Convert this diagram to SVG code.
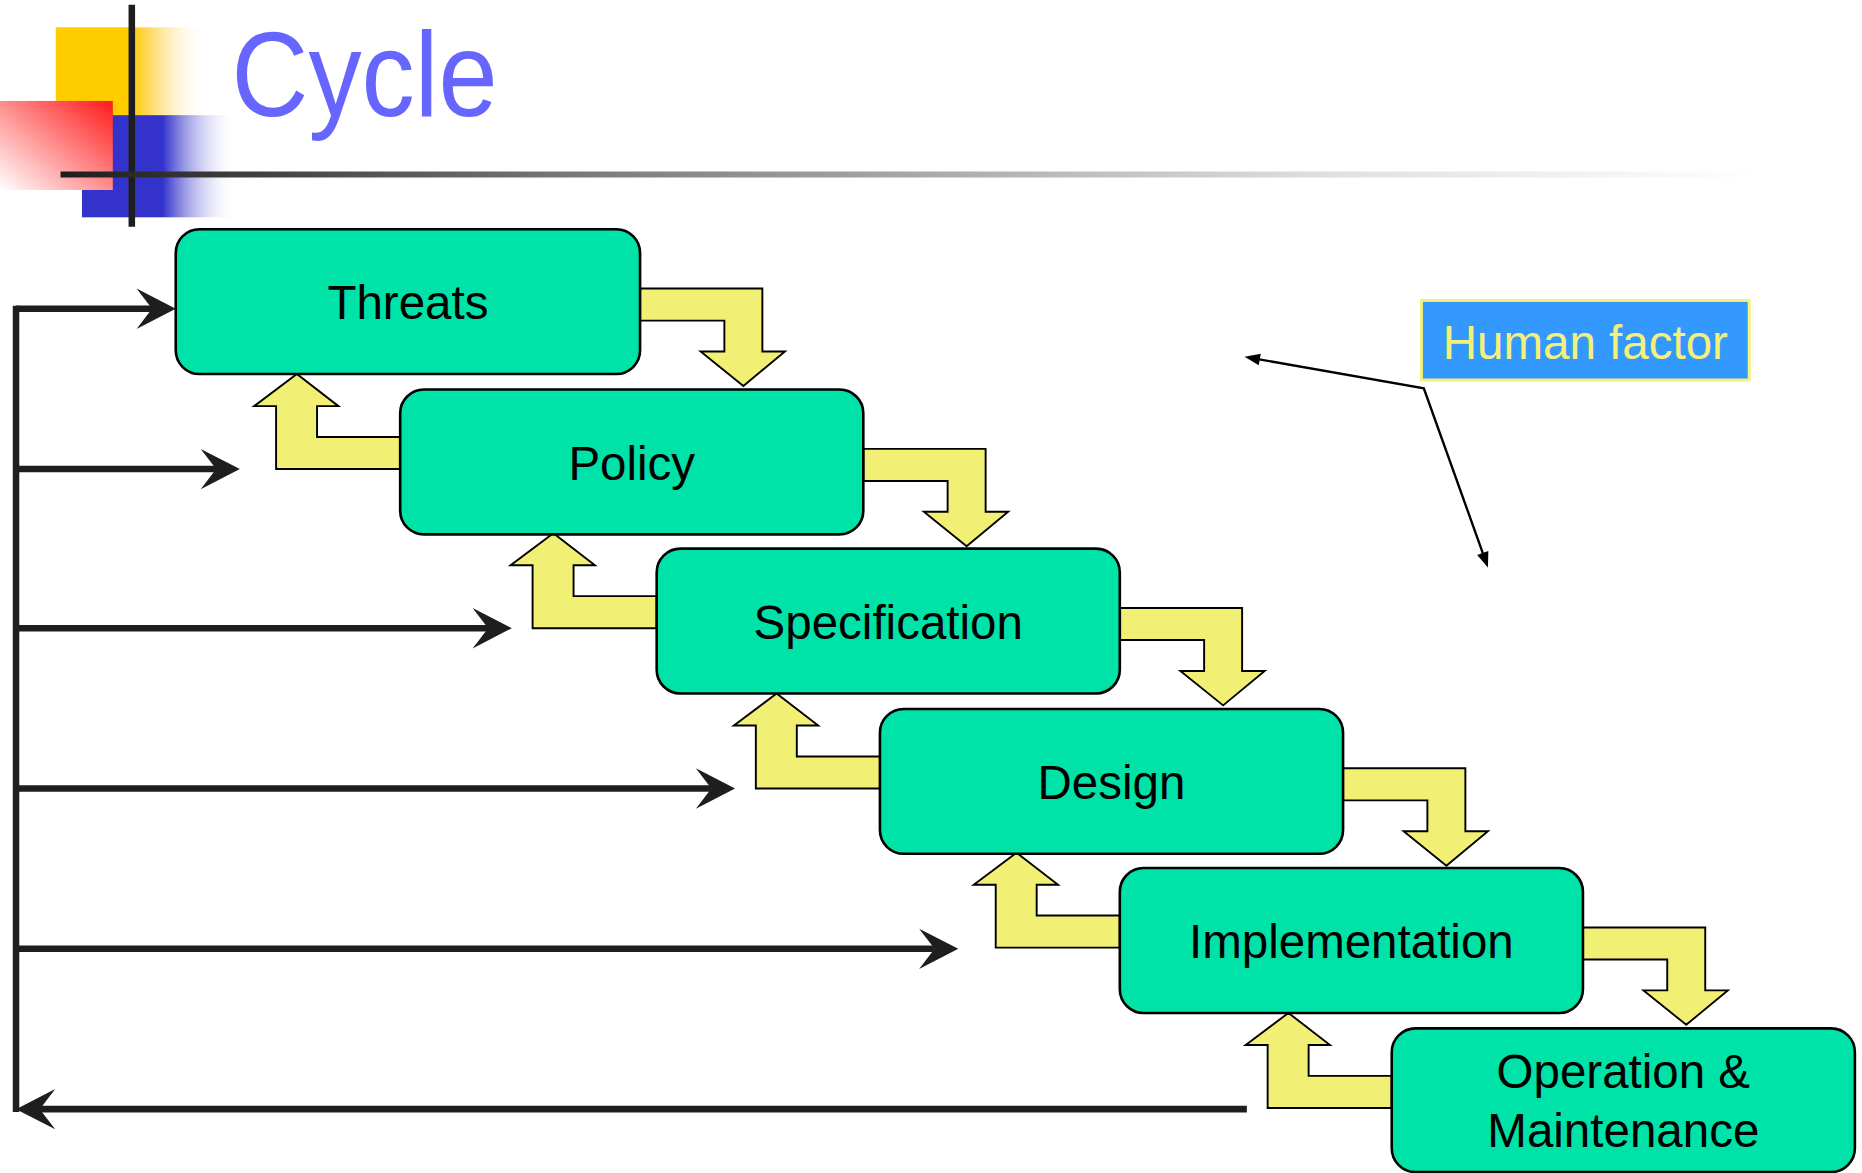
<svg xmlns="http://www.w3.org/2000/svg" width="1862" height="1173" viewBox="0 0 1862 1173">
<defs>
<style>
.box{fill:#00E3A8;stroke:#000;stroke-width:2.2}
.lbl{font-family:"Liberation Sans",Arial,sans-serif;font-size:40px;fill:#000;text-anchor:middle}
.ya{fill:#F2F074;stroke:#000;stroke-width:1.6;stroke-linejoin:miter}
.fb{fill:none;stroke:#1e1e1e;stroke-width:5.5}
.thin{fill:none;stroke:#000;stroke-width:2}
</style>
<linearGradient id="gY" x1="0" y1="0" x2="1" y2="0">
<stop offset="0" stop-color="#FFCC00"/><stop offset="0.5" stop-color="#FFCC00"/><stop offset="0.62" stop-color="#FFD966"/><stop offset="1" stop-color="#FFFFFF" stop-opacity="0"/>
</linearGradient>
<linearGradient id="gB" x1="0" y1="0" x2="1" y2="0">
<stop offset="0" stop-color="#3333CC"/><stop offset="0.52" stop-color="#3333CC"/><stop offset="1" stop-color="#FFFFFF" stop-opacity="0"/>
</linearGradient>
<linearGradient id="gR" x1="1" y1="0" x2="0" y2="1">
<stop offset="0" stop-color="#FF1A1A"/><stop offset="1" stop-color="#FFFFFF"/>
</linearGradient>
<linearGradient id="gL" gradientUnits="userSpaceOnUse" x1="51" y1="0" x2="1480" y2="0">
<stop offset="0" stop-color="#1e1e1e"/><stop offset="0.33" stop-color="#808080"/><stop offset="0.75" stop-color="#e0e0e0"/><stop offset="1" stop-color="#ffffff"/>
</linearGradient>
<marker id="fbh" markerUnits="userSpaceOnUse" markerWidth="60" markerHeight="60" refX="0" refY="0" orient="auto" overflow="visible">
<path d="M20,0 L-13,-17 L0,0 L-13,17 Z" fill="#1e1e1e"/>
</marker>
<marker id="th" markerUnits="userSpaceOnUse" markerWidth="30" markerHeight="30" refX="0" refY="0" orient="auto-start-reverse" overflow="visible">
<path d="M3,0 L-10,-5 L-10,5 Z" fill="#000"/>
</marker>
</defs>
<rect width="1862" height="1173" fill="#ffffff"/>
<g transform="scale(1.1875)">
<g id="decoration">
<rect x="47" y="23" width="128" height="75" fill="url(#gY)"/>
<rect x="69" y="97" width="131" height="86" fill="url(#gB)"/>
<rect x="0" y="85" width="95" height="75" fill="url(#gR)"/>
<line x1="111" y1="4" x2="111" y2="191" stroke="#1e1e1e" stroke-width="5.5"/>
<line x1="51" y1="147" x2="1480" y2="147" stroke="url(#gL)" stroke-width="5"/>
</g>
<text id="title" x="195" y="98" font-family="'Liberation Sans',Arial,sans-serif" font-size="102" fill="#6666FF" textLength="224" lengthAdjust="spacingAndGlyphs">Cycle</text>
<g id="connectors">
<line class="fb" x1="13.5" y1="257.5" x2="13.5" y2="936.5"/>
<path class="fb" d="M13.5,260 H128" marker-end="url(#fbh)"/>
<path class="fb" d="M13.5,395 H182" marker-end="url(#fbh)"/>
<path class="fb" d="M13.5,529 H411" marker-end="url(#fbh)"/>
<path class="fb" d="M13.5,664 H599" marker-end="url(#fbh)"/>
<path class="fb" d="M13.5,799 H787" marker-end="url(#fbh)"/>
<path class="fb" d="M1050,934 H33.5" marker-end="url(#fbh)"/>
<path class="thin" d="M1051,301 L1199,327 L1252,475" marker-start="url(#th)" marker-end="url(#th)"/>
<polygon class="ya" points="539,243 642,243 642,296 661,296 626,325 590,296 610,296 610,270 539,270"/>
<polygon class="ya" points="727,378 830,378 830,431 849,431 814,460 778,431 798,431 798,405 727,405"/>
<polygon class="ya" points="943,512 1046,512 1046,565 1065,565 1030,594 994,565 1014,565 1014,539 943,539"/>
<polygon class="ya" points="1131,647 1234,647 1234,700 1253,700 1218,729 1182,700 1202,700 1202,674 1131,674"/>
<polygon class="ya" points="1333,781 1436,781 1436,834 1455,834 1420,863 1384,834 1404,834 1404,808 1333,808"/>
<polygon class="ya" points="337,368 267,368 267,342 285,342 250,315 214,342 232.5,342 232.5,395 337,395"/>
<polygon class="ya" points="553,502 483,502 483,476 501,476 466,449 430,476 448.5,476 448.5,529 553,529"/>
<polygon class="ya" points="741,637 671,637 671,611 689,611 654,584 618,611 636.5,611 636.5,664 741,664"/>
<polygon class="ya" points="943,771 873,771 873,745 891,745 856,718 820,745 838.5,745 838.5,798 943,798"/>
<polygon class="ya" points="1172,906 1102,906 1102,880 1120,880 1085,853 1049,880 1067.5,880 1067.5,933 1172,933"/>
</g>
<g id="threats"><rect class="box" x="148" y="193" width="391" height="122" rx="20"/><text class="lbl" x="343.5" y="269">Threats</text></g>
<g id="policy"><rect class="box" x="337" y="328" width="390" height="122" rx="20"/><text class="lbl" x="532" y="404">Policy</text></g>
<g id="specification"><rect class="box" x="553" y="462" width="390" height="122" rx="20"/><text class="lbl" x="748" y="538">Specification</text></g>
<g id="design"><rect class="box" x="741" y="597" width="390" height="122" rx="20"/><text class="lbl" x="936" y="673">Design</text></g>
<g id="implementation"><rect class="box" x="943" y="731" width="390" height="122" rx="20"/><text class="lbl" x="1138" y="807">Implementation</text></g>
<g id="operation"><rect class="box" x="1172" y="866" width="390" height="121" rx="20"/><text class="lbl" x="1367" y="916">Operation &amp;</text><text class="lbl" x="1367" y="966">Maintenance</text></g>
<g id="human-factor"><rect x="1197" y="253" width="276" height="67" fill="#3399FF" stroke="#F5F07A" stroke-width="2.5"/><text x="1335" y="302" font-family="'Liberation Sans',Arial,sans-serif" font-size="40" fill="#F5F07A" text-anchor="middle">Human factor</text></g>
</g>
</svg>
